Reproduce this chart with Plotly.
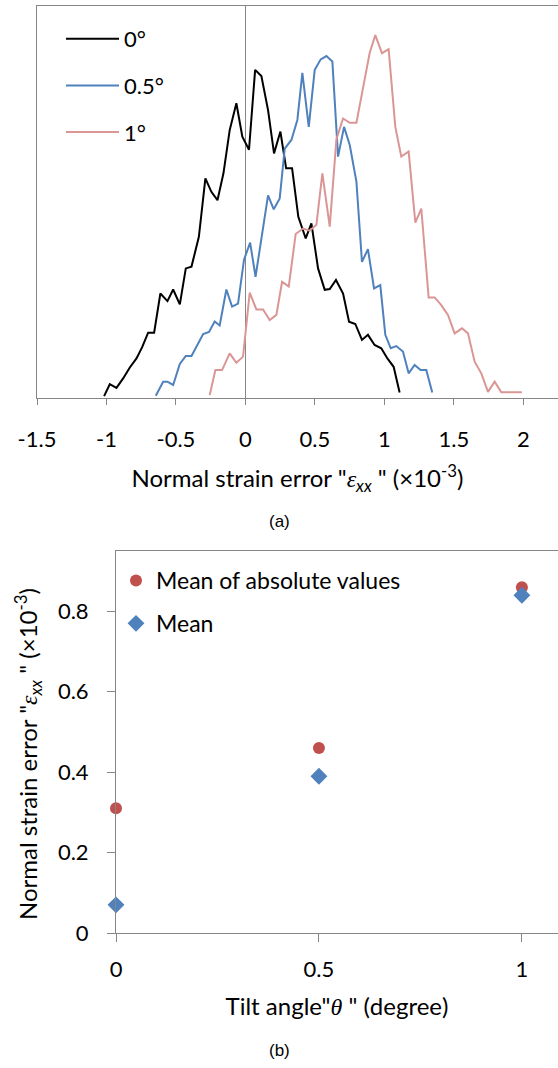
import plotly.graph_objects as go

# Distribution of the normal strain error (x: strain error ×10^-3, y: relative frequency)
x_0deg = [-1.017, -0.976, -0.928, -0.880, -0.832, -0.784, -0.743, -0.700, -0.657, -0.612,
          -0.561, -0.520, -0.472, -0.429, -0.388, -0.335, -0.288, -0.245, -0.201, -0.158,
          -0.113, -0.065, -0.022, 0.026, 0.070, 0.115, 0.163, 0.206, 0.252, 0.293,
          0.336, 0.381, 0.434, 0.475, 0.523, 0.571, 0.607, 0.652, 0.703, 0.746,
          0.791, 0.839, 0.882, 0.930, 0.978, 1.022, 1.067, 1.110]
y_0deg = [0.5, 3.8, 2.8, 5.4, 8.4, 10.9, 14.0, 18.0, 18.0, 28.8,
          26.7, 29.9, 25.8, 35.7, 36.2, 44.4, 60.5, 56.8, 54.5, 61.9,
          73.8, 81.2, 72.0, 68.4, 90.4, 88.7, 79.3, 67.4, 73.4, 63.3,
          63.3, 49.9, 44.0, 48.1, 35.7, 29.8, 30.0, 32.5, 28.8, 21.0,
          20.4, 16.0, 17.4, 14.6, 13.7, 10.9, 8.6, 1.5]

x_05deg = [-0.645, -0.592, -0.561, -0.520, -0.472, -0.429, -0.388, -0.304, -0.262, -0.221,
           -0.185, -0.137, -0.096, -0.053, -0.010, 0.034, 0.073, 0.163, 0.204, 0.247,
           0.283, 0.331, 0.374, 0.410, 0.456, 0.499, 0.542, 0.583, 0.626, 0.667,
           0.710, 0.751, 0.799, 0.839, 0.882, 0.926, 0.971, 1.007, 1.046, 1.086,
           1.134, 1.175, 1.218, 1.261, 1.302, 1.345]
y_05deg = [0.6, 4.5, 4.5, 3.6, 9.4, 11.6, 11.6, 17.6, 18.2, 21.1,
           20.0, 29.9, 25.2, 26.0, 38.1, 42.8, 33.4, 55.8, 52.0, 55.0,
           68.7, 71.1, 76.6, 89.6, 74.7, 90.4, 93.3, 94.2, 92.7, 66.5,
           74.7, 69.7, 59.6, 37.5, 41.0, 30.2, 31.1, 17.4, 13.7, 14.3,
           12.8, 6.8, 9.1, 7.7, 7.7, 1.5]

x_1deg = [-0.257, -0.216, -0.168, -0.113, -0.065, -0.017, 0.031, 0.079, 0.127, 0.175,
          0.223, 0.264, 0.312, 0.362, 0.415, 0.463, 0.511, 0.554, 0.607, 0.655,
          0.703, 0.751, 0.799, 0.847, 0.894, 0.935, 0.983, 1.031, 1.079, 1.122,
          1.175, 1.223, 1.266, 1.319, 1.362, 1.410, 1.458, 1.506, 1.559, 1.602,
          1.650, 1.698, 1.746, 1.794, 1.842, 1.990]
y_1deg = [0.8, 7.7, 7.7, 12.3, 9.7, 11.4, 29.0, 24.4, 24.4, 21.5,
          22.9, 32.0, 30.7, 45.2, 46.7, 46.1, 47.7, 61.9, 47.2, 71.3,
          77.0, 75.8, 75.8, 85.8, 95.0, 100.0, 95.0, 96.1, 74.7, 66.5,
          67.9, 48.3, 52.2, 27.7, 27.7, 25.6, 22.9, 17.8, 19.2, 17.8,
          10.0, 6.8, 1.7, 4.5, 1.6, 1.6]

# Summary statistics versus tilt angle
tilt_angle = [0, 0.5, 1]
mean_abs = [0.31, 0.46, 0.86]
mean_val = [0.07, 0.39, 0.84]

x_ticks_a = [-1.5, -1, -0.5, 0, 0.5, 1, 1.5, 2]
x_ticks_b = [0, 0.5, 1]
y_ticks_b = [0, 0.2, 0.4, 0.6, 0.8]

W, H = 558, 1068
FONT = "Lato"
AX = "#868686"


def py(px):
    """Convert a pixel row (from top) into paper y."""
    return (H - px) / H


def sym(s):
    """Italic serif glyph for a math symbol inside a title."""
    return f"<span style=\"font-family:'Liberation Serif'\"><i>{s}</i></span>"


fig = go.Figure()

fig.add_trace(go.Scatter(x=x_0deg, y=y_0deg, mode="lines", name="0°",
                         line=dict(color="#000000", width=2),
                         xaxis="x", yaxis="y", legend="legend", legendgroup="a0"))
fig.add_trace(go.Scatter(x=x_05deg, y=y_05deg, mode="lines", name="0.5°",
                         line=dict(color="#4F81BD", width=2),
                         xaxis="x", yaxis="y", legend="legend", legendgroup="a1"))
fig.add_trace(go.Scatter(x=x_1deg, y=y_1deg, mode="lines", name="1°",
                         line=dict(color="#DA9694", width=2),
                         xaxis="x", yaxis="y", legend="legend", legendgroup="a2"))

fig.add_trace(go.Scatter(x=tilt_angle, y=mean_abs, mode="markers", name="Mean of absolute values",
                         marker=dict(symbol="circle", size=12, color="#C0504D"),
                         cliponaxis=False, xaxis="x2", yaxis="y2",
                         legend="legend2", legendgroup="b0"))
fig.add_trace(go.Scatter(x=tilt_angle, y=mean_val, mode="markers", name="Mean",
                         marker=dict(symbol="diamond", size=13, color="#4F81BD"),
                         cliponaxis=False, xaxis="x2", yaxis="y2",
                         legend="legend2", legendgroup="b1"))

tickfont = dict(family=FONT, size=22, color="#000000")
eps_title = f'Normal strain error "{sym("ε")}<sub><i>xx</i></sub> " (×10<sup>-3</sup>)'
theta_title = f'Tilt angle"{sym("θ")} " (degree)'

fig.update_layout(
    width=W, height=H, autosize=False,
    margin=dict(l=0, r=0, t=0, b=0, pad=0, autoexpand=False),
    paper_bgcolor="white", plot_bgcolor="white",
    font=dict(family=FONT, size=22, color="#000000"),
    showlegend=True,
    xaxis=dict(
        domain=[37 / W, 1], range=[-1.5, 2.25], anchor="y", automargin=False,
        tickmode="array", tickvals=x_ticks_a,
        ticktext=[f"{v:g}" for v in x_ticks_a],
        showline=True, linecolor=AX, linewidth=1, mirror=True,
        ticks="outside", ticklen=6, tickcolor=AX, tickwidth=1,
        ticklabelstandoff=16,
        showgrid=False, zeroline=True, zerolinecolor=AX, zerolinewidth=1,
        tickfont=tickfont,
        title=dict(text=eps_title, font=dict(family=FONT, size=24), standoff=18),
    ),
    yaxis=dict(
        domain=[py(398), py(6)], range=[0, 108], anchor="x", automargin=False,
        showline=True, linecolor=AX, linewidth=1,
        showticklabels=False, ticks="", showgrid=False, zeroline=False,
    ),
    xaxis2=dict(
        domain=[116 / W, 1], range=[0, 1.089], anchor="y2", automargin=False,
        tickmode="array", tickvals=x_ticks_b,
        ticktext=[f"{v:g}" for v in x_ticks_b],
        showline=True, linecolor=AX, linewidth=1, mirror=True,
        ticks="outside", ticklen=8, tickcolor=AX, tickwidth=1,
        ticklabelstandoff=9,
        showgrid=False, zeroline=False,
        tickfont=tickfont,
        title=dict(text=theta_title, font=dict(family=FONT, size=24), standoff=16),
    ),
    yaxis2=dict(
        domain=[py(933), py(551)], range=[0, 0.95], anchor="x2", automargin=False,
        tickmode="array", tickvals=y_ticks_b,
        ticktext=[f"{v:g}" for v in y_ticks_b],
        showline=True, linecolor=AX, linewidth=1,
        ticks="outside", ticklen=8, tickcolor=AX, tickwidth=1,
        ticklabelstandoff=14,
        showgrid=False, zeroline=False,
        tickfont=tickfont,
    ),
    legend=dict(
        x=61 / W, y=py(18), xanchor="left", yanchor="top",
        bgcolor="rgba(0,0,0,0)", borderwidth=0,
        font=dict(family=FONT, size=22),
        traceorder="grouped", tracegroupgap=15, itemwidth=53,
    ),
    legend2=dict(
        x=116 / W, y=py(559), xanchor="left", yanchor="top",
        bgcolor="rgba(0,0,0,0)", borderwidth=0,
        font=dict(family=FONT, size=23),
        traceorder="grouped", tracegroupgap=10,
    ),
    annotations=[
        # vertical title of the lower panel
        dict(text=eps_title, x=28 / W, y=py(754), xref="paper", yref="paper",
             showarrow=False, textangle=-90, xanchor="center", yanchor="middle",
             font=dict(family=FONT, size=24, color="#000000")),
        dict(text="(a)", x=279 / W, y=py(521), xref="paper", yref="paper",
             showarrow=False, xanchor="center", yanchor="middle",
             font=dict(family="Liberation Sans", size=17, color="#000000")),
        dict(text="(b)", x=279 / W, y=py(1050), xref="paper", yref="paper",
             showarrow=False, xanchor="center", yanchor="middle",
             font=dict(family="Liberation Sans", size=17, color="#000000")),
    ],
)

fig.write_html("out.html")
